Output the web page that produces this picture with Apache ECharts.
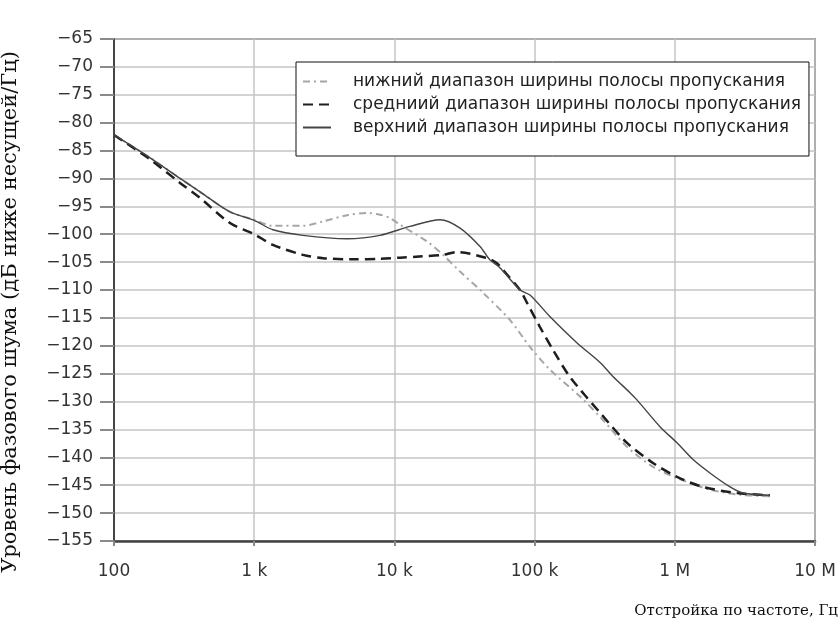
<!DOCTYPE html>
<html>
<head>
<meta charset="utf-8">
<script src="https://cdn.jsdelivr.net/npm/echarts@6/dist/echarts.min.js"></script>
<style>
  html, body { margin: 0; padding: 0; background: #fff; }
  #main { width: 840px; height: 626px; }
</style>
</head>
<body>
<div id="main"></div>
<script>
// частоты (Гц) и уровни (дБн/Гц)
var lowFreq = [100, 181, 296, 411, 672, 1000, 1360, 2230, 3100, 4590, 6380, 7890, 9310, 10970, 17100, 22200, 29400, 42900, 66800, 92700, 129000, 211000, 307000, 456000, 699000, 1037000, 1780000, 2920000, 4770000];
var lowDb   = [-82.2, -86.3, -90, -92.4, -96, -97.4, -98.5, -98.5, -97.7, -96.6, -96.2, -96.5, -97.1, -98.3, -101.3, -103.7, -106.7, -110.5, -115.4, -120.2, -124.3, -129.1, -133.3, -138.1, -141.7, -143.7, -145.8, -146.7, -147];

var midFreq = [100, 181, 296, 411, 672, 1000, 1360, 2230, 3100, 5000, 8000, 10970, 15000, 22200, 28000, 45800, 53900, 59500, 78700, 88300, 109000, 135000, 179000, 300000, 456000, 699000, 1037000, 1590000, 2780000, 4770000];
var midDb   = [-82.2, -86.6, -90.8, -93.5, -98, -100, -101.9, -103.7, -104.3, -104.5, -104.4, -104.2, -104, -103.7, -103.2, -104.3, -105.2, -106.4, -110, -112.3, -116.6, -120.7, -125.6, -132.3, -137.4, -141, -143.5, -145.3, -146.4, -146.8];

var highFreq = [100, 181, 296, 411, 672, 1000, 1360, 2230, 4590, 7890, 12900, 21150, 29400, 40800, 48000, 56600, 78700, 92700, 129000, 201000, 293000, 362000, 479000, 537000, 784000, 1037000, 1350000, 1780000, 2480000, 3060000, 4770000];
var highDb   = [-82.2, -86.3, -90, -92.4, -96, -97.5, -99.2, -100.2, -100.8, -100.2, -98.6, -97.4, -98.9, -102.2, -104.6, -106, -110, -110.9, -114.8, -119.5, -123, -125.5, -128.4, -129.7, -134.5, -137.4, -140.4, -142.8, -145.3, -146.4, -146.8];

var seriesNames = [
  'нижний диапазон ширины полосы пропускания',
  'средниий диапазон ширины полосы пропускания',
  'верхний диапазон ширины полосы пропускания'
];
var xTickLabels = { 100: '100', 1000: '1 k', 10000: '10 k', 100000: '100 k', 1000000: '1 M', 10000000: '10 M' };

function pairs(xs, ys) {
  var out = [];
  for (var i = 0; i < xs.length; i++) out.push([xs[i], ys[i]]);
  return out;
}

var myChart = echarts.init(document.getElementById('main'));

var option = {
  backgroundColor: '#fff',
  animation: false,
  grid: {
    left: 114, right: 25, top: 39, bottom: 85,
    outerBoundsMode: 'none',
    containLabel: false,
    show: true,
    borderColor: '#444',
    borderWidth: 1.5
  },
  legend: {
    orient: 'vertical',
    left: 296,
    top: 62,
    padding: [11, 8, 20, 6],
    itemWidth: 28,
    itemHeight: 14,
    itemGap: 6,
    backgroundColor: '#fff',
    borderColor: '#111',
    borderWidth: 1,
    borderRadius: 0,
    itemStyle: { opacity: 0 },
    textStyle: { fontFamily: 'DejaVu Sans', fontSize: 17, color: '#222', padding: [0, 0, 0, 17] },
    data: seriesNames
  },
  xAxis: {
    type: 'log',
    logBase: 10,
    min: 100,
    max: 10000000,
    name: 'Отстройка по частоте, Гц',
    nameLocation: 'end',
    nameGap: 23,
    nameTextStyle: {
      fontFamily: 'DejaVu Serif', fontSize: 15, color: '#111',
      align: 'right', verticalAlign: 'top', padding: [63, 0, 0, 0]
    },
    axisLine: { lineStyle: { color: '#444', width: 2.5 } },
    axisTick: { show: true, length: 5, lineStyle: { color: '#888', width: 2 } },
    axisLabel: {
      margin: 22,
      fontFamily: 'DejaVu Sans', fontSize: 17, color: '#333',
      formatter: function(v) { return xTickLabels[Math.round(v)] || ''; }
    },
    splitLine: { show: true, lineStyle: { color: '#c4c4c4', width: 1.5 } },
    minorTick: { show: false }
  },
  yAxis: {
    type: 'value',
    min: -155,
    max: -65,
    interval: 5,
    name: 'Уровень фазового шума (дБ ниже несущей/Гц)',
    nameLocation: 'middle',
    nameGap: 93,
    nameRotate: 90,
    nameTextStyle: {
      fontFamily: 'DejaVu Serif', fontSize: 21, color: '#111',
      padding: [0, 44, 0, 0]
    },
    axisLine: { show: true, lineStyle: { color: '#222', width: 1.5 } },
    axisTick: { show: true, inside: false, length: 14, lineStyle: { color: '#8a8a8a', width: 2 } },
    axisLabel: {
      margin: 21,
      fontFamily: 'DejaVu Sans', fontSize: 17, color: '#333',
      formatter: function(v) { return String(v).replace('-', '\u2212'); }
    },
    splitLine: { show: true, lineStyle: { color: '#c4c4c4', width: 1.5 } }
  },
  series: [{
    name: seriesNames[0],
    type: 'line',
    smooth: 0.3,
    symbol: 'none',
    data: pairs(lowFreq, lowDb),
    lineStyle: { color: '#a6a6a6', width: 2, type: [7, 4, 2, 4] },
    itemStyle: { color: '#a6a6a6' },
    z: 3
  }, {
    name: seriesNames[1],
    type: 'line',
    smooth: 0.3,
    symbol: 'none',
    data: pairs(midFreq, midDb),
    lineStyle: { color: '#1e1e1e', width: 2.5, type: [10, 6] },
    itemStyle: { color: '#1e1e1e' },
    z: 4
  }, {
    name: seriesNames[2],
    type: 'line',
    smooth: 0.3,
    symbol: 'none',
    data: pairs(highFreq, highDb),
    lineStyle: { color: '#444', width: 1.4, type: 'solid' },
    itemStyle: { color: '#444' },
    z: 5
  }]
};

myChart.setOption(option);
</script>
</body>
</html>
